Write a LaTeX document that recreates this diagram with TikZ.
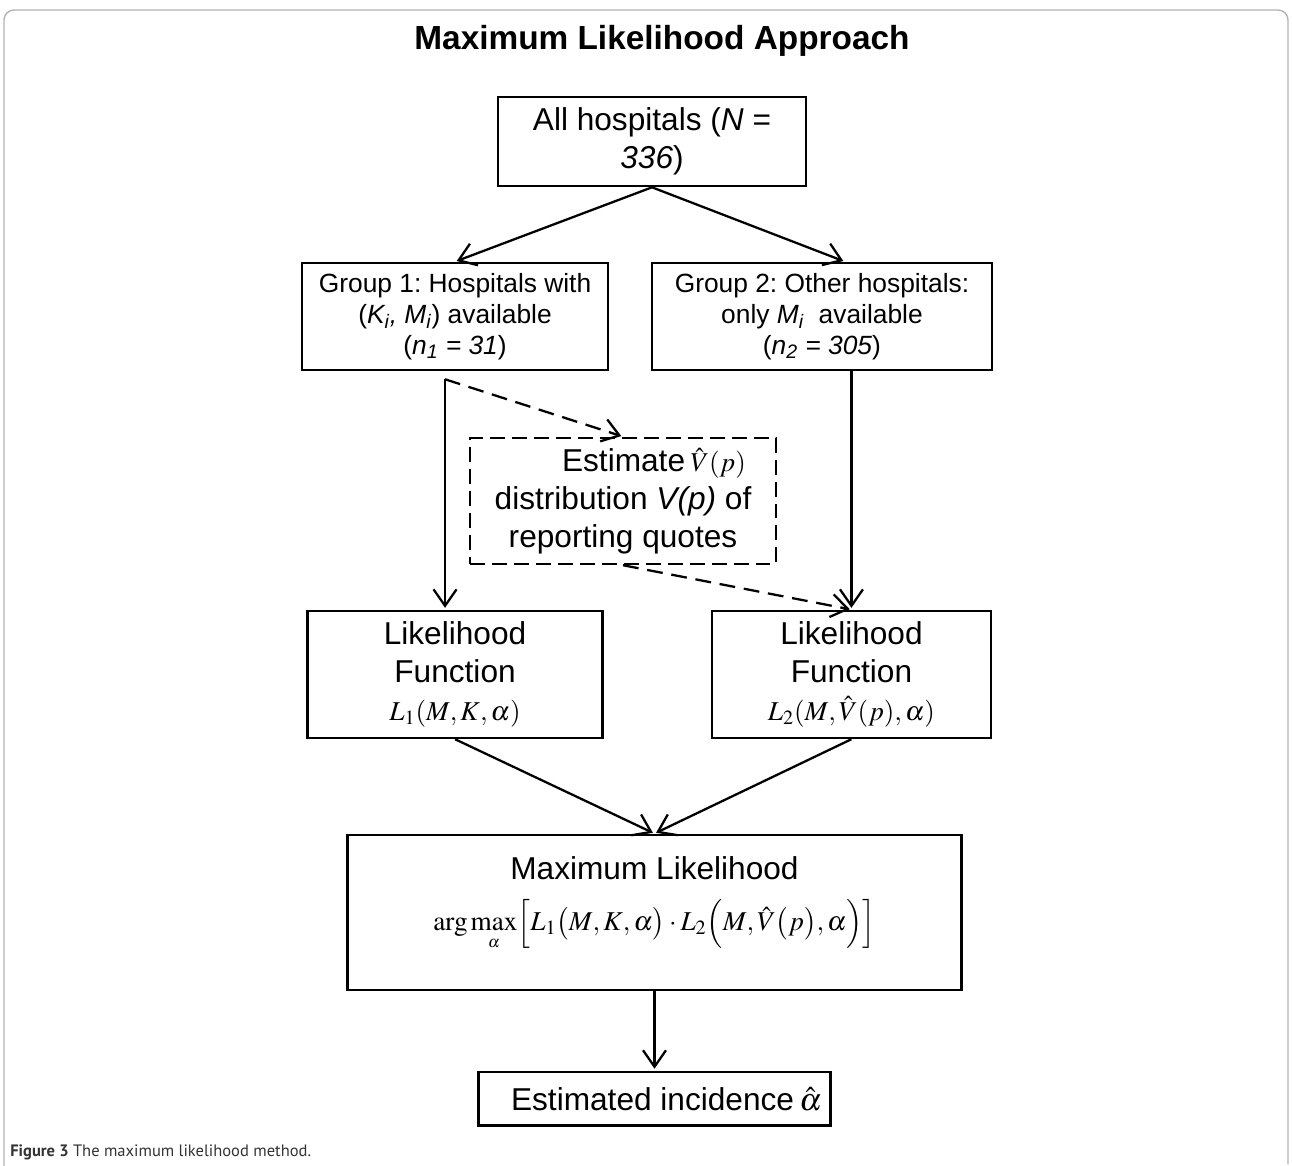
\documentclass[tikz,border=0pt]{standalone}
\usepackage{mathptmx}
\usepackage[no-math]{fontspec}
\setmainfont{Liberation Sans}
\newfontfamily\captionfont{PT Sans}
\usetikzlibrary{arrows.meta,positioning}
\frenchspacing

\newcommand{\bigtext}{\fontsize{18}{21.5}\selectfont}
\newcommand{\grouptext}{\fontsize{15}{17.5}\selectfont}
\newcommand{\mathtext}{\fontsize{15.5}{18}\selectfont}

\tikzset{
  block/.style={draw, line width=1.5pt, align=center, inner sep=0pt, font=\bigtext},
  groupblock/.style={block, font=\grouptext},
  estblock/.style={block, dash pattern=on 8.5pt off 4pt},
}

\begin{document}
\begin{tikzpicture}[x=0.02cm, y=-0.02cm, on grid, shorten >=1pt,
    >={Straight Barb[length=3.3mm,width=4.6mm]},
    flow/.style={->, line width=1.3pt},
    guess/.style={flow, dash pattern=on 9pt off 5pt}]
  \useasboundingbox (0,0) rectangle (1292,1166);
  \draw[gray!60, line width=0.8pt, rounded corners=0.2cm] (4,1166) -- (4,10) -- (1288,10) -- (1288,1166);

  \node[font=\fontsize{19}{22}\selectfont\bfseries] (title) at (662,41) {Maximum Likelihood Approach};
  \node[block, minimum width=6.16cm, minimum height=1.78cm] (all) at (652,141.5) {All hospitals (\textit{N} =\\\textit{336})};
  \node[groupblock, minimum width=6.12cm, minimum height=2.14cm] (g1) [below left=3.5cm and 3.94cm of all]
    {Group 1: Hospitals with\\(\textit{K\textsubscript{i}, M\textsubscript{i}}) available\\(\textit{n\textsubscript{1} = 31})};
  \node[groupblock, minimum width=6.8cm, minimum height=2.14cm] (g2) [below right=3.5cm and 3.4cm of all]
    {Group 2: Other hospitals:\\only \textit{M\textsubscript{i}}~ available\\(\textit{n\textsubscript{2} = 305})};
  \node[estblock, minimum width=6.12cm, minimum height=2.52cm] (est) [below right=3.69cm and 3.36cm of g1]
    {\hspace*{1.24cm}Estimate\,{\mathtext$\hat{V}(p)$}\\distribution \textit{V(p)} of\\reporting quotes};
  \node[block, minimum width=5.9cm, minimum height=2.54cm] (lik1) [below=7.16cm of g1]
    {Likelihood\\Function\\{\mathtext$L_{1}(M,K,\alpha)$}};
  \node[block, minimum width=5.58cm, minimum height=2.54cm] (lik2) [below right=7.16cm and 0.59cm of g2]
    {Likelihood\\Function\\{\mathtext$L_{2}(M,\hat{V}(p),\alpha)$}};
  \node[block, minimum width=12.28cm, minimum height=3.1cm] (ml) [below right=4.76cm and 3.99cm of lik1]
    {Maximum Likelihood\\[8pt]{\mathtext$\arg\max\limits_{\scriptscriptstyle\alpha}\Bigl[L_{1}\bigl(M,K,\alpha\bigr)\cdot L_{2}\Bigl(M,\hat{V}\bigl(p\bigr),\alpha\Bigr)\Bigr]$}\\[0pt]\mbox{}};
  \node[block, minimum width=7.04cm, minimum height=1.08cm] (inc) [below=3.73cm of ml]
    {\hspace*{0.48cm}Estimated incidence\,$\hat{\alpha}$};
  \node[anchor=west, inner sep=0pt, text=black!80, font=\captionfont\fontsize{9.4}{11}\selectfont] (caption) at (10,1152)
    {\textbf{Figure 3} The maximum likelihood method.};

  \coordinate (g1out) at ([xshift=-0.2cm,yshift=-0.16cm]g1.south);
  \path[flow]
    (all.south) edge (g1.north)
                edge ([xshift=0.46cm]g2.north)
    (g1out) edge (g1out |- lik1.north)
    (lik2.north |- g2.south) edge (lik2.north)
    (lik1.south) edge (ml.north)
    (lik2.south) edge (ml.north)
    (ml.south) edge (inc.north);
  \path[guess]
    (g1out) edge (est.north)
    (est.south) edge (lik2.north);
\end{tikzpicture}
\end{document}
